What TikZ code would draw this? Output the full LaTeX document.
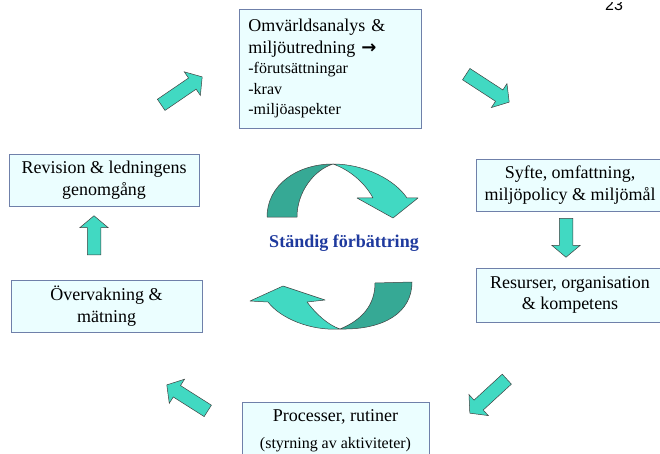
\documentclass[tikz,border=0pt]{standalone}
\usepackage{fontspec}
\setmainfont{Liberation Serif}
\newfontfamily\pagenumfont{Liberation Sans}
\newfontfamily\arrowfont{DejaVu Sans}
\usetikzlibrary{shapes.arrows,calc}
\definecolor{boxfill}{HTML}{EBFEFF}
\definecolor{boxline}{HTML}{6F80AA}
\definecolor{arrowfill}{HTML}{41D9C2}
\definecolor{arrowdark}{HTML}{36A995}
\definecolor{arrowline}{HTML}{404040}
\definecolor{titleblue}{HTML}{1F3A9E}
\tikzset{
  box/.style={draw=boxline, line width=0.8pt, fill=boxfill, inner sep=0pt, align=center,
    font=\fontsize{18}{21.5}\selectfont},
  barr/.style={single arrow, draw=arrowline, fill=arrowfill, line width=0.5pt,
    inner xsep=0pt, inner ysep=6.5pt, text height=0pt, text depth=0pt,
    single arrow head extend=7.5pt, single arrow tip angle=100, anchor=tail},
  carr/.style={draw=arrowline, line width=0.5pt, line join=round},
}
\newcommand{\blockarrow}[3]{%
  \path let \p1=($(#3)-(#2)$), \n1={atan2(\y1,\x1)}, \n2={veclen(\x1,\y1)} in
    node[barr, rotate=\n1, minimum height=\n2] (#1) at (#2) {};}
\begin{document}
\begin{tikzpicture}[x=1pt, y=-1pt]
\useasboundingbox (0,0) rectangle (660,454);
\clip (0,0) rectangle (660,454);
\fill[white] (0,0) rectangle (660,454);

% page number (cut off at the top)
\begin{scope}
  \clip (590,3) rectangle (640,20);
  \node[anchor=base, inner sep=0pt, font=\pagenumfont\fontsize{16}{16}\selectfont] (pnum) at (614,10.5) {23};
\end{scope}

% boxes
\node[box, align=left, anchor=north west, minimum width=182pt, minimum height=119pt,
      text width=164pt, inner xsep=9pt] (omv) at (239,9)
  {Omvärldsanalys \&\\ miljöutredning {\arrowfont\bfseries\fontsize{18}{18}\selectfont →}\\[-1pt]
   {\fontsize{16}{21.5}\selectfont -förutsättningar}\\[-1pt]
   {\fontsize{16}{21.5}\selectfont -krav}\\[-1pt]
   {\fontsize{16}{21.5}\selectfont -miljöaspekter}};
\node[box, minimum width=190pt, minimum height=52pt] (rev) at (104,180) {Revision \& ledningens\\ genomgång};
\node[box, minimum width=191pt, minimum height=52pt] (overv) at (106.5,306) {Övervakning \&\\ mätning};
\node[box, minimum width=188pt, minimum height=52pt] (syfte) at (570,185) {Syfte, omfattning,\\ miljöpolicy \& miljömål};
\node[box, minimum width=188pt, minimum height=54pt] (res) at (570,295) {Resurser, organisation\\ \& kompetens};
\node[box, minimum width=187pt, minimum height=58pt] (proc) at (335.5,431)
  {Processer, rutiner\\[5pt] {\fontsize{16}{18}\selectfont (styrning av aktiviteter)}};

% block arrows
\coordinate (a1t) at (161,105); \coordinate (a1h) at (202,77);
\coordinate (a2t) at (466,74);  \coordinate (a2h) at (509,102);
\coordinate (a3t) at (566,218); \coordinate (a3h) at (566,257);
\coordinate (a4t) at (507,379); \coordinate (a4h) at (470,413);
\coordinate (a5t) at (208,411); \coordinate (a5h) at (167,385);
\coordinate (a6t) at (94,255);  \coordinate (a6h) at (94,216);
\blockarrow{arrA}{a1t}{a1h}
\blockarrow{arrB}{a2t}{a2h}
\blockarrow{arrC}{a3t}{a3h}
\blockarrow{arrD}{a4t}{a4h}
\blockarrow{arrE}{a5t}{a5h}
\blockarrow{arrF}{a6t}{a6h}

% central cycle arrows
\draw[carr, fill=arrowdark] (267,217) .. controls (267,185) and (297,164) .. (333,164)
  .. controls (314,170) and (297,192) .. (297,217) -- cycle;
\draw[carr, fill=arrowfill] (333,164) .. controls (365,164) and (395,180) .. (407,198)
  -- (418,198) -- (393,218) -- (357,198) -- (373,198)
  .. controls (365,183) and (350,170) .. (333,164) -- cycle;
\draw[carr, fill=arrowdark] (375,283) -- (412,282) .. controls (412,312) and (385,330) .. (340,329)
  .. controls (362,320) and (375,305) .. (375,283) -- cycle;
\draw[carr, fill=arrowfill] (340,329) .. controls (310,331) and (280,318) .. (268,302)
  -- (250,301) -- (283,286) -- (325,300) -- (307,302)
  .. controls (316,314) and (328,325) .. (340,329) -- cycle;

\node[font=\bfseries\fontsize{18}{18}\selectfont, text=titleblue, inner sep=0pt] (title) at (344,243) {Ständig förbättring};
\end{tikzpicture}
\end{document}
